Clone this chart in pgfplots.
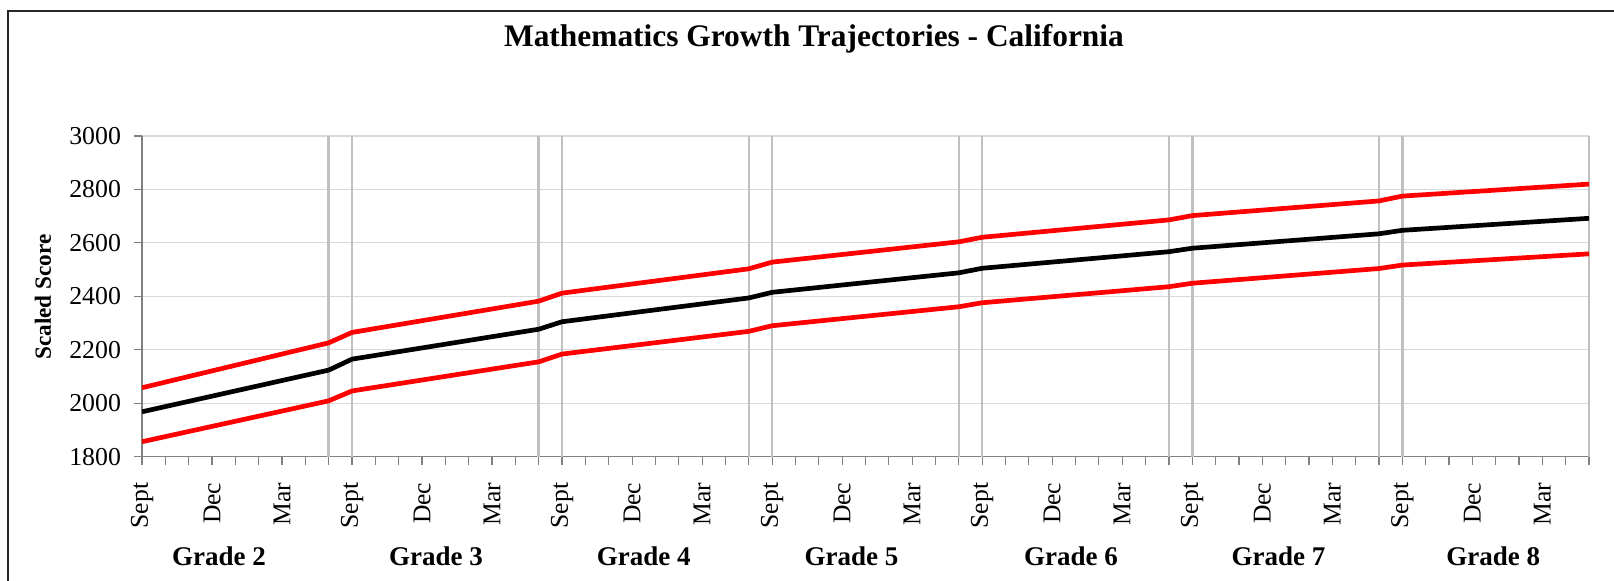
\documentclass[border=0pt]{standalone}
\usepackage{fontspec}
\setmainfont{Liberation Serif}
\usepackage{pgfplots}
\pgfplotsset{compat=1.18}
\definecolor{gridgray}{HTML}{D9D9D9}
\definecolor{vgray}{HTML}{C0C0C0}
\definecolor{axgray}{HTML}{808080}
\begin{document}
\begin{tikzpicture}
\useasboundingbox (0,0) rectangle (807pt,290.5pt);
\fill[white] (0,0) rectangle (807pt,290.5pt);
\draw[line width=0.8pt, black!85] (4pt,-20pt) -- (4pt,285pt) -- (830pt,285pt);
\node[font=\bfseries\fontsize{15.7}{18}\selectfont] at (407pt,271.25pt) {Mathematics Growth Trajectories - California};
\node[font=\bfseries\fontsize{11.6}{14}\selectfont, rotate=90] at (21.5pt,142pt) {Scaled Score};
\begin{axis}[
 at={(71pt,62.15pt)}, anchor=south west, scale only axis,
 width=723.5pt, height=160.35pt,
 xmin=0, xmax=62, ymin=1800, ymax=3000,
 ytick={1800,2000,...,3000},
 xtick={0,...,62},
 xticklabels={Sept,{},{},Dec,{},{},Mar,{},{},Sept,{},{},Dec,{},{},Mar,{},{},Sept,{},{},Dec,{},{},Mar,{},{},Sept,{},{},Dec,{},{},Mar,{},{},Sept,{},{},Dec,{},{},Mar,{},{},Sept,{},{},Dec,{},{},Mar,{},{},Sept,{},{},Dec,{},{},Mar,{},{}},
 axis x line=bottom, axis y line=left,
 axis line style={-, axgray, line width=0.8pt},
 tick align=outside,
 major tick length=4pt,
 tick style={axgray, line width=0.6pt},
 xticklabel style={rotate=90, anchor=east, font=\fontsize{12.8}{14}\selectfont},
 yticklabel style={font=\fontsize{12.9}{14}\selectfont},
 /pgf/number format/assume math mode=true,
 /pgf/number format/1000 sep={},
 xticklabel shift=5.5pt,
 yticklabel shift=3pt,
 ymajorgrids, grid style={gridgray, line width=0.6pt},
 extra x ticks={8,9,17,18,26,27,35,36,44,45,53,54,62},
 extra x tick labels={},
 extra x tick style={grid=major, major grid style={vgray, line width=1.3pt}},
 clip mode=individual,
]
\addplot[red, line width=2.35pt, line join=round] coordinates {
(0,2058) (8,2226) (9,2265) (17,2382) (18,2412) (26,2503) (27,2528) (35,2604) (36,2621) (44,2686) (45,2702) (53,2757) (54,2775) (62,2820)};
\addplot[black, line width=2.35pt, line join=round] coordinates {
(0,1968) (8,2124) (9,2165) (17,2277) (18,2305) (26,2394) (27,2415) (35,2488) (36,2505) (44,2567) (45,2580) (53,2634) (54,2647) (62,2692)};
\addplot[red, line width=2.35pt, line join=round] coordinates {
(0,1856) (8,2009) (9,2046) (17,2155) (18,2184) (26,2269) (27,2290) (35,2361) (36,2376) (44,2436) (45,2449) (53,2504) (54,2517) (62,2559)};
\foreach \g/\x in {2/3.3,3/12.6,4/21.5,5/30.4,6/39.8,7/48.7,8/57.9}{
  \edef\tmp{\noexpand\node[font=\noexpand\bfseries\noexpand\fontsize{13.5}{16}\noexpand\selectfont, yshift=-49.7pt] at (axis cs:\x,1800) {Grade \g};}
  \tmp
}
\end{axis}
\end{tikzpicture}
\end{document}
